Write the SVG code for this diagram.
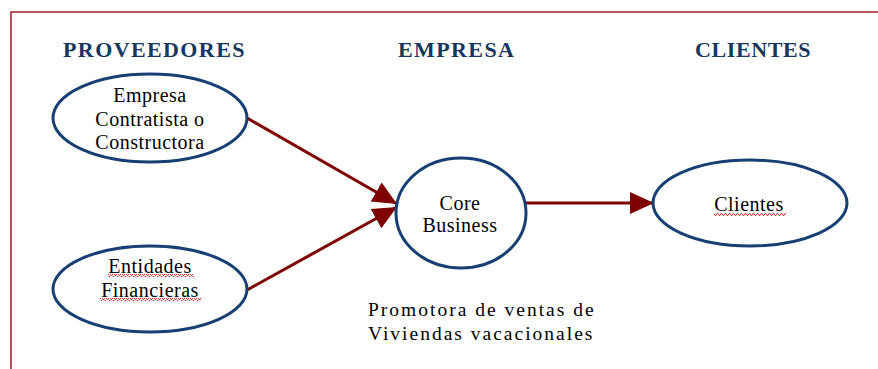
<svg xmlns="http://www.w3.org/2000/svg" width="878" height="369" viewBox="0 0 878 369">
<style>
.title{font-family:"Liberation Serif","Times New Roman",serif;font-weight:bold;font-size:22px;letter-spacing:1.4px;fill:#17375e}
.node{fill:#fff;stroke:#173f73;stroke-width:3}
.lbl{font-family:"Liberation Serif","Times New Roman",serif;font-size:20px;letter-spacing:0.5px;fill:#000;text-anchor:middle}
.note{font-family:"Liberation Serif","Times New Roman",serif;font-size:19.5px;letter-spacing:2px;fill:#000}
.conn{stroke:#7f0000;stroke-width:3;fill:none}
</style>
<defs>
<marker id="ah" markerUnits="userSpaceOnUse" markerWidth="25" markerHeight="24" refX="24" refY="12" orient="auto">
<path d="M0,1 L24,12 L0,23 z" fill="#7f0000"/>
</marker>
<pattern id="wave" width="4" height="3" patternUnits="userSpaceOnUse">
<path d="M0,2.5 L1,0.5 L2,0.5 L3,2.5 L4,2.5" stroke="#e03030" stroke-width="1" fill="none"/>
</pattern>
</defs>
<rect x="0" y="0" width="878" height="369" fill="#fff"/>
<path d="M11,369 V12 H878" fill="none" stroke="#a3262a" stroke-width="1.6"/>
<text class="title" x="63" y="57">PROVEEDORES</text>
<text class="title" x="398" y="57">EMPRESA</text>
<text class="title" x="695" y="57" style="letter-spacing:0.6px">CLIENTES</text>
<g id="connectors">
<line class="conn" x1="247" y1="118" x2="397" y2="204" marker-end="url(#ah)"/>
<line class="conn" x1="247" y1="290" x2="397" y2="207" marker-end="url(#ah)"/>
<line class="conn" x1="526" y1="203" x2="654" y2="203" marker-end="url(#ah)"/>
</g>
<g id="n-constructora">
<ellipse class="node" cx="150" cy="118" rx="97" ry="44"/>
<text class="lbl" x="150" y="102">Empresa</text>
<text class="lbl" x="150" y="126">Contratista o</text>
<text class="lbl" x="150" y="149">Constructora</text>
</g>
<g id="n-financieras">
<ellipse class="node" cx="150" cy="289" rx="97" ry="43"/>
<text class="lbl" x="150" y="273">Entidades</text>
<text class="lbl" x="150" y="297">Financieras</text>
<rect x="108" y="274" width="86" height="3" fill="url(#wave)"/>
<rect x="100" y="298" width="101" height="3" fill="url(#wave)"/>
</g>
<g id="n-core">
<ellipse class="node" cx="461" cy="213" rx="65" ry="55"/>
<text class="lbl" x="460" y="210">Core</text>
<text class="lbl" x="460" y="232">Business</text>
</g>
<g id="n-clientes">
<ellipse class="node" cx="750" cy="203" rx="97" ry="43"/>
<text class="lbl" x="749" y="211">Clientes</text>
<rect x="714" y="213" width="72" height="3" fill="url(#wave)"/>
</g>
<text class="note" x="368" y="316">Promotora de ventas de</text>
<text class="note" x="368" y="340">Viviendas vacacionales</text>
</svg>
